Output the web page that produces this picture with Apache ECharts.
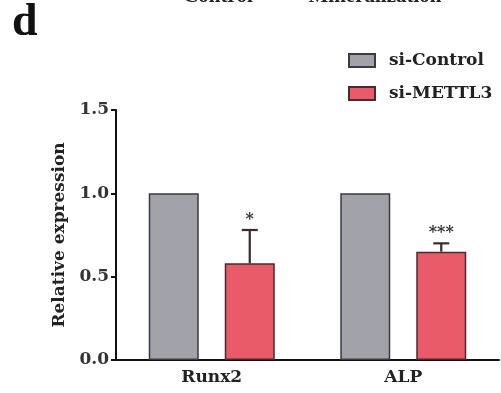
<!DOCTYPE html>
<html><head><meta charset="utf-8">
<script src="https://cdn.jsdelivr.net/npm/echarts@6/dist/echarts.min.js"></script>
<style>html,body{margin:0;padding:0;background:#fff}#c{width:501px;height:393px}</style>
</head><body><div id="c"></div>
<script>
var categories = ['Runx2', 'ALP'];
var seriesNames = ['si-Control', 'si-METTL3'];
var controlValues = [1.0, 1.0];
var mettl3Values = [0.58, 0.65];
var mettl3ErrorUpper = [0.78, 0.70];
var significance = ['*', '***'];

var FONT = '"DejaVu Serif", "Liberation Serif", serif';
var TFONT = '"Liberation Serif", "Times New Roman", serif';
var BAR_W = 50, GAP = 26;
var chart = echarts.init(document.getElementById('c'));
chart.setOption({
  backgroundColor: '#fff',
  animation: false,
  grid: { left: 116, right: 2, top: 110, bottom: 33 },
  legend: {
    orient: 'vertical', left: 348, top: 52, padding: 0, itemWidth: 26, itemHeight: 13, itemGap: 16,
    icon: 'rect',
    data: seriesNames,
    textStyle: { fontFamily: FONT, fontWeight: 'bold', fontSize: 17, color: '#222', padding: [0,0,0,9] }
  },
  xAxis: {
    type: 'category', data: categories,
    axisLine: { lineStyle: { color: '#111', width: 2 } },
    axisTick: { alignWithLabel: true, length: 5, lineStyle: { color: '#111', width: 2 } },
    axisLabel: { fontFamily: FONT, fontWeight: 'bold', fontSize: 17, color: '#222', margin: 9 }
  },
  yAxis: {
    type: 'value', min: 0, max: 1.5, interval: 0.5,
    name: 'Relative expression', nameLocation: 'middle', nameRotate: 90, nameGap: 40,
    nameTextStyle: { fontFamily: FONT, fontWeight: 'bold', fontSize: 17, color: '#222' },
    axisLine: { show: true, lineStyle: { color: '#111', width: 2 } },
    axisTick: { show: true, length: 5, lineStyle: { color: '#111', width: 2 } },
    splitLine: { show: false },
    axisLabel: { fontFamily: FONT, fontWeight: 'bold', fontSize: 17, color: '#333', margin: 7,
      formatter: function (v) { return v.toFixed(1); } }
  },
  series: [
    { name: seriesNames[0], type: 'bar', data: controlValues, barWidth: BAR_W, barGap: (GAP / BAR_W * 100) + '%',
      itemStyle: { color: '#a2a2ab', borderColor: '#3a3a40', borderWidth: 1.5 } },
    { name: seriesNames[1], type: 'bar', data: mettl3Values, barWidth: BAR_W,
      itemStyle: { color: '#e95b69', borderColor: '#4a2a2e', borderWidth: 1.5 } },
    { type: 'custom', name: 'err', silent: true,
      data: categories.map(function (c, i) { return [i, mettl3Values[i], mettl3ErrorUpper[i]]; }),
      renderItem: function (params, api) {
        var off = (BAR_W + GAP) / 2;
        var p0 = api.coord([api.value(0), api.value(1)]);
        var p1 = api.coord([api.value(0), api.value(2)]);
        var x = p0[0] + off;
        var st = { stroke: '#3a2a2c', lineWidth: 2.2 };
        return { type: 'group', children: [
          { type: 'line', shape: { x1: x, y1: p0[1], x2: x, y2: p1[1] }, style: st },
          { type: 'line', shape: { x1: x - 8, y1: p1[1], x2: x + 8, y2: p1[1] }, style: st },
          { type: 'text', style: { text: significance[params.dataIndex], x: x, y: p1[1] - 2,
            textAlign: 'center', textVerticalAlign: 'bottom', font: 'bold 16px ' + FONT, fill: '#333' } }
        ] };
      }
    }
  ],
  graphic: [
    { type: 'text', left: 12, top: 0, style: { text: 'd', font: 'bold 46px ' + TFONT, fill: '#111' } },
    { type: 'text', style: { text: 'Control', x: 218, y: 7, textAlign: 'center', textVerticalAlign: 'bottom', font: 'bold 21px ' + TFONT, fill: '#222' } },
    { type: 'text', style: { text: 'Mineralization', x: 375, y: 7, textAlign: 'center', textVerticalAlign: 'bottom', font: 'bold 21px ' + TFONT, fill: '#222' } }
  ]
});
</script></body></html>
